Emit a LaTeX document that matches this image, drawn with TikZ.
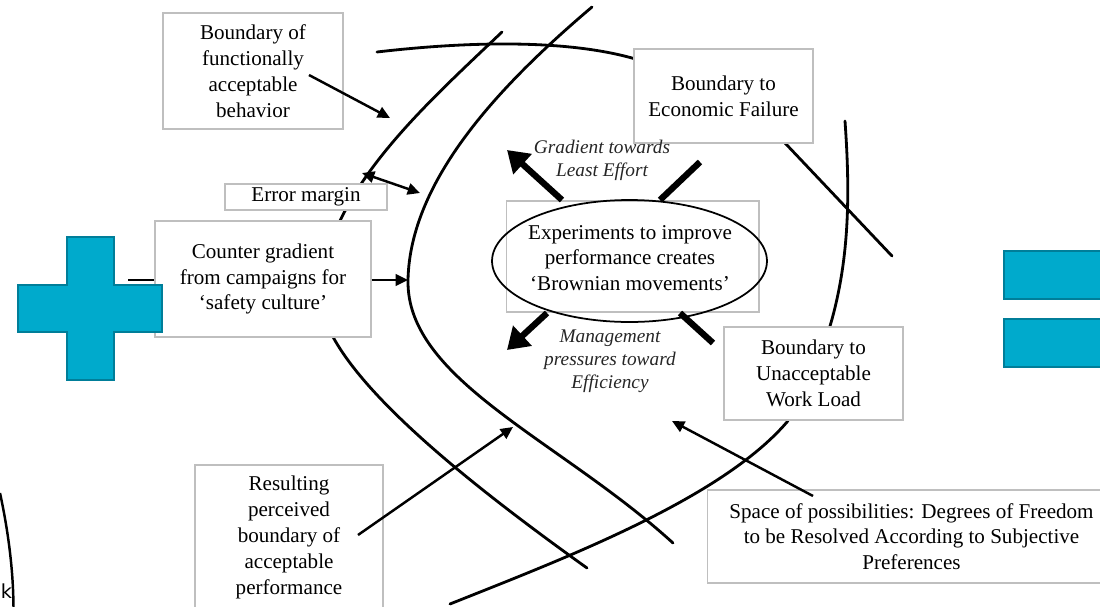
\documentclass[tikz,border=0pt]{standalone}
\usepackage{fontspec}
\setmainfont{Liberation Serif}
\newfontfamily\labelsans{DejaVu Sans}
\usetikzlibrary{arrows.meta}
\definecolor{boxgray}{HTML}{BFBFBF}
\definecolor{signfill}{HTML}{00AACC}
\definecolor{signedge}{HTML}{007E99}
\begin{document}
\begin{tikzpicture}[x=0.02cm, y=-0.02cm,
  box/.style={draw=boxgray, line width=0.6pt, fill=white, inner sep=0pt,
    align=center, font=\fontsize{12}{14.7}\selectfont},
  bound/.style={line width=1.6pt, line cap=round},
  lead/.style={line width=1.4pt, -{Triangle[length=7pt,width=6.5pt]}},
  twoway/.style={line width=1.4pt, {Triangle[length=7pt,width=6.5pt]}-{Triangle[length=7pt,width=6.5pt]}},
  push/.style={line width=3.6pt, -{Triangle[length=12pt,width=15pt]}},
  stub/.style={line width=3.6pt},
  note/.style={font=\itshape\fontsize{11}{13}\selectfont, align=center, text=black!85},
  sign/.style={fill=signfill, draw=signedge, line width=1.4pt}
]
\useasboundingbox (0,0) rectangle (1100,606);

% boundary curves
\draw[bound] (502,32) .. controls (420,110) and (330,190) .. (320,290)
  .. controls (315,360) and (450,470) .. (587,568);
\draw[bound] (592,7) .. controls (500,85) and (410,180) .. (408,280)
  .. controls (406,380) and (560,440) .. (673,543);
\draw[bound] (377,52) .. controls (480,40) and (580,40) .. (645,62);
\draw[bound] (845,121) .. controls (852,220) and (850,320) .. (787,422)
  .. controls (720,500) and (560,560) .. (450,604);
\coordinate (diagA) at (785,143);
\coordinate (diagB) at (892,256);
\draw[bound] (diagA) -- (diagB);

% partial outline at the left edge
\draw[line width=1.4pt] (0,493) .. controls (8,530) and (13.5,570) .. (13.5,610);
\node[anchor=base west, inner sep=0pt, font=\labelsans\fontsize{11}{13}\selectfont] (kk) at (0.5,598) {k};

% text boxes
\node[box, minimum width=3.6cm, minimum height=2.32cm] (func) at (253,71)
  {Boundary of\\functionally\\acceptable\\behavior};
\node[box, minimum width=3.24cm, minimum height=0.52cm] (err) at (306,197) {Error margin};
\node[box, minimum width=4.32cm, minimum height=2.32cm] (counter) at (263,279)
  {Counter gradient\\from campaigns for\\‘safety culture’};
\node[box, minimum width=3.58cm, minimum height=1.88cm] (econ) at (723.5,96)
  {Boundary to\\Economic Failure};
\node[box, minimum width=5.06cm, minimum height=2.22cm] (core) at (632.5,256.5) {};
\draw[line width=1pt] (629.5,261) ellipse [x radius=2.75cm, y radius=1.22cm];
\node[align=center, inner sep=0pt, font=\fontsize{12}{14.7}\selectfont] (brown) at (630,258)
  {Experiments to improve\\performance creates\\‘Brownian movements’};
\node[box, minimum width=3.58cm, minimum height=1.86cm] (load) at (813.5,373.5)
  {Boundary to\\Unacceptable\\Work Load};
\node[box, minimum width=3.76cm, minimum height=2.9cm] (result) at (289,537.5)
  {Resulting\\perceived\\boundary of\\acceptable\\performance};
\node[box, minimum width=8.18cm, minimum height=1.86cm] (space) at (911.5,536.5)
  {Space of possibilities: Degrees of Freedom\\to be Resolved According to Subjective\\Preferences};

% italic labels
\node[note] (effort) at (602,160) {Gradient towards\\Least Effort};
\node[note] (mgmt) at (610,361) {Management\\pressures toward\\Efficiency};

% pointers
\coordinate (funcTip) at (390,118);
\coordinate (funcTail) at (309,75);
\draw[lead] (funcTail) -- (funcTip);
\coordinate (marginA) at (362,173);
\coordinate (marginB) at (420,193);
\draw[twoway] (marginA) -- (marginB);
\coordinate (counterTip) at (408,280);
\draw[lead] (counter.east |- counterTip) -- (counterTip);
\coordinate (stubL) at (128,280);
\draw[line width=1.5pt] (stubL) -- (counter.west |- stubL);
\coordinate (resultTail) at (358,535);
\coordinate (resultTip) at (513,427);
\draw[lead] (resultTail) -- (resultTip);
\coordinate (spaceTail) at (813,496);
\coordinate (spaceTip) at (672,421);
\draw[lead] (spaceTail) -- (spaceTip);

% thick movement arrows around the core
\coordinate (ulTip) at (507,150);
\coordinate (urEnd) at (700,162);
\coordinate (llTip) at (507,350);
\coordinate (lrEnd) at (713,343);
\draw[push] (562,200) -- (ulTip);
\draw[stub] (660,200) -- (urEnd);
\draw[push] (547,313) -- (llTip);
\draw[stub] (680,313) -- (lrEnd);

% plus and equals signs
\draw[sign] (67,237) -- (114,237) -- (114,285) -- (162,285) -- (162,332) -- (114,332)
  -- (114,380) -- (67,380) -- (67,332) -- (18,332) -- (18,285) -- (67,285) -- cycle;
\draw[sign] (1004,251) rectangle (1112,299);
\draw[sign] (1004,319) rectangle (1112,367);
\end{tikzpicture}
\end{document}
